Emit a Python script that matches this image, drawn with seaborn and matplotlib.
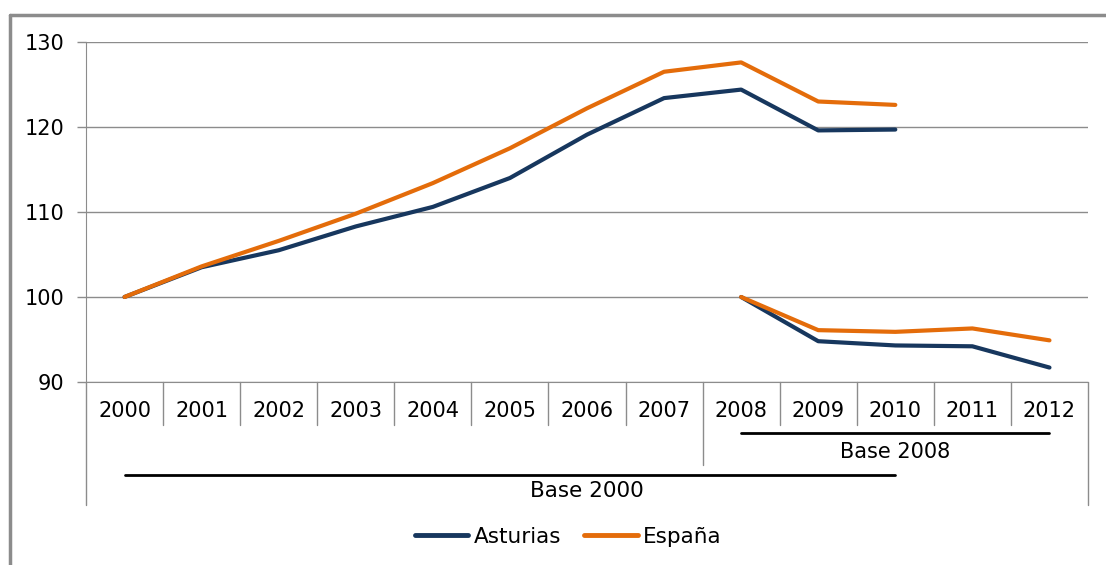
import matplotlib
matplotlib.use("Agg")
import matplotlib.pyplot as plt
from matplotlib.lines import Line2D
import pandas as pd
import seaborn as sns

years = ["2000", "2001", "2002", "2003", "2004", "2005", "2006",
         "2007", "2008", "2009", "2010", "2011", "2012"]

# base 2000 = 100 (2000-2010)
asturias_b2000 = [100, 103.5, 105.5, 108.3, 110.6, 114.0, 119.1, 123.4, 124.4, 119.6, 119.7]
espana_b2000 = [100, 103.6, 106.6, 109.8, 113.4, 117.5, 122.2, 126.5, 127.6, 123.0, 122.6]

# base 2008 = 100 (2008-2012)
asturias_b2008 = [100, 94.8, 94.3, 94.2, 91.7]
espana_b2008 = [100, 96.1, 95.9, 96.3, 94.9]

navy = "#17375E"
orange = "#E46C0A"
grid_gray = "#8C8C8C"

sns.set_style("white")
plt.rcParams["font.family"] = ["DejaVu Sans"]
plt.rcParams["text.color"] = "black"
plt.rcParams["xtick.color"] = "black"
plt.rcParams["ytick.color"] = "black"

fig = plt.figure(figsize=(11.06, 5.65), dpi=100)
ax = fig.add_axes([86 / 1106, 1 - 382 / 565, (1088 - 86) / 1106, (382 - 42) / 565])

df2000 = pd.DataFrame({
    "x": list(range(len(asturias_b2000))) * 2,
    "valor": asturias_b2000 + espana_b2000,
    "serie": ["Asturias"] * len(asturias_b2000) + ["España"] * len(espana_b2000),
})
df2008 = pd.DataFrame({
    "x": [i + 8 for i in range(len(asturias_b2008))] * 2,
    "valor": asturias_b2008 + espana_b2008,
    "serie": ["Asturias"] * len(asturias_b2008) + ["España"] * len(espana_b2008),
})
pal = {"Asturias": navy, "España": orange}

sns.lineplot(data=df2000, x="x", y="valor", hue="serie", palette=pal,
             linewidth=3, ax=ax, legend=False)
sns.lineplot(data=df2008, x="x", y="valor", hue="serie", palette=pal,
             linewidth=3, ax=ax, legend=False)

ax.set_xlim(-0.5, 12.5)
ax.set_ylim(90, 130)
ax.set_yticks([90, 100, 110, 120, 130])
ax.yaxis.grid(True, color=grid_gray, linewidth=1)
ax.set_axisbelow(True)
ax.tick_params(axis="y", left=True, length=6.5, width=1, color=grid_gray,
               labelsize=15, pad=9)
ax.set_xticks(range(len(years)))
ax.set_xticklabels(years, fontsize=15)
ax.tick_params(axis="x", bottom=False, pad=10)
ax.set_xlabel("")
ax.set_ylabel("")
for s in ["top", "right"]:
    ax.spines[s].set_visible(False)
ax.spines["left"].set_color(grid_gray)
ax.spines["bottom"].set_color(grid_gray)

# table-like separators under the axis
tr = ax.get_xaxis_transform()
for i in range(1, len(years)):
    bottom = -0.244 if i == 8 else -0.126
    ax.plot([i - 0.5, i - 0.5], [0, bottom], color=grid_gray, lw=1,
            transform=tr, clip_on=False)
for xb in [-0.5, 12.5]:
    ax.plot([xb, xb], [0, -0.362], color=grid_gray, lw=1, transform=tr, clip_on=False)

# base brackets
ax.plot([8, 12], [-0.15, -0.15], color="black", lw=2, transform=tr, clip_on=False)
ax.text(10, -0.205, "Base 2008", transform=tr, ha="center", va="center", fontsize=15)
ax.plot([0, 10], [-0.274, -0.274], color="black", lw=2, transform=tr, clip_on=False)
ax.text(6, -0.322, "Base 2000", transform=tr, ha="center", va="center", fontsize=15.5)

handles = [Line2D([], [], color=navy, lw=3.5), Line2D([], [], color=orange, lw=3.5)]
fig.legend(handles, ["Asturias", "España"], loc="center",
           bbox_to_anchor=(568 / 1106, 1 - 537 / 565), ncol=2, frameon=False,
           fontsize=15.5, handlelength=2.5, handletextpad=0.23, columnspacing=1.07)

# outer chart frame (top and left only visible)
fig.add_artist(Line2D([10 / 1106, 10 / 1106], [0, 1 - 15 / 565], color="#8C8C8C", lw=2.5))
fig.add_artist(Line2D([10 / 1106, 1], [1 - 15 / 565, 1 - 15 / 565], color="#8C8C8C", lw=2.5))

fig.savefig("out.png", dpi=100)
